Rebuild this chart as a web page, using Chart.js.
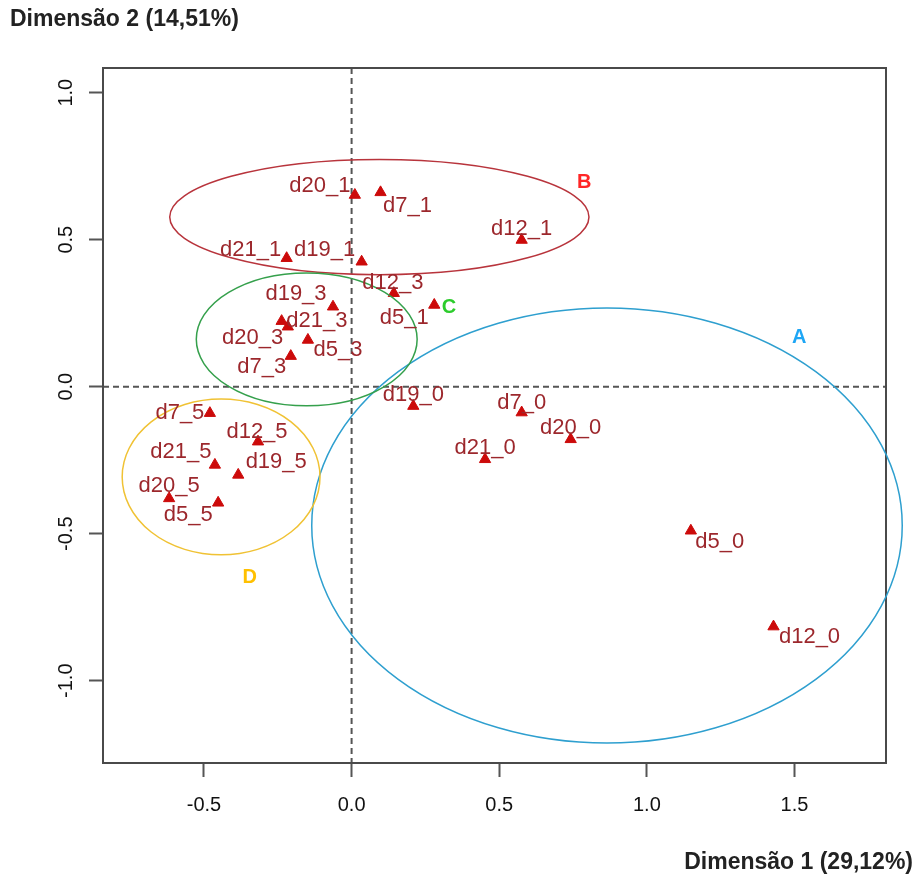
<!DOCTYPE html>
<html>
<head>
<meta charset="utf-8">
<title>Dimensões</title>
<script src="https://cdn.jsdelivr.net/npm/chart.js@4"></script>
<style>
  body { margin: 0; background: #fff; }
  #wrap { width: 917px; height: 883px; }
</style>
</head>
<body>
<div id="wrap"><canvas id="myChart" width="917" height="883"></canvas></div>
<script>
// categorias (modalidades) e coordenadas nas dimensões 1 e 2
const categories = ['d20_1', 'd7_1', 'd12_1', 'd21_1', 'd19_1', 'd12_3', 'd5_1', 'd19_3',
  'd20_3', 'd21_3', 'd5_3', 'd7_3', 'd7_5', 'd12_5', 'd21_5', 'd19_5', 'd20_5', 'd5_5',
  'd19_0', 'd7_0', 'd20_0', 'd21_0', 'd5_0', 'd12_0']
const dim1 = [0.011, 0.098, 0.576, -0.220, 0.034, 0.143, 0.280, -0.063,
  -0.237, -0.216, -0.148, -0.206, -0.480, -0.317, -0.463, -0.384, -0.618, -0.452,
  0.209, 0.576, 0.742, 0.452, 1.149, 1.429]
const dim2 = [0.652, 0.661, 0.499, 0.437, 0.425, 0.318, 0.278, 0.272,
  0.223, 0.204, 0.159, 0.104, -0.090, -0.187, -0.266, -0.300, -0.380, -0.395,
  -0.066, -0.088, -0.179, -0.247, -0.490, -0.816]

const xTicks = [-0.5, 0, 0.5, 1, 1.5]
const yTicks = [-1, -0.5, 0, 0.5, 1]

// grupos (elipses) em unidades dos eixos
const groups = ['A', 'B', 'C', 'D']
const groupCx = [0.865, 0.094, -0.152, -0.442]
const groupCy = [-0.472, 0.577, 0.161, -0.307]
const groupRx = [1.0, 0.710, 0.374, 0.335]
const groupRy = [0.740, 0.196, 0.226, 0.265]
const groupLabelX = [1.516, 0.788, 0.330, -0.345]
const groupLabelY = [0.166, 0.693, 0.271, -0.650]

// estilo
const ellipseColors = ['#2e9fcf', '#b8343c', '#35a04c', '#f0c234']
const letterColors = ['#1ea6f5', '#ff2626', '#2ccc2c', '#ffc000']
const labelNudge = {
  d20_1: [-35, -9], d7_1: [27, 14], d12_1: [0, -11], d21_1: [-36, -8], d19_1: [-37, -12],
  d12_3: [-1, -10], d5_1: [-30, 13], d19_3: [-37, -13], d20_3: [-29, 17], d21_3: [29, -6],
  d5_3: [30, 10], d7_3: [-29, 11], d7_5: [-30, 0], d12_5: [-1, -10], d21_5: [-34, -13],
  d19_5: [38, -13], d20_5: [0, -12], d5_5: [-30, 12], d19_0: [0, -11], d7_0: [0, -10],
  d20_0: [0, -11], d21_0: [0, -11], d5_0: [29, 11], d12_0: [36, 10]
}

const points = categories.map((c, i) => ({ x: dim1[i], y: dim2[i] }))

const decor = {
  id: 'decor',
  beforeDatasetsDraw(chart) {
    const { ctx, chartArea: a, scales: { x, y } } = chart
    ctx.save()
    // linhas tracejadas em zero
    ctx.strokeStyle = '#555'
    ctx.lineWidth = 2
    ctx.setLineDash([6, 4])
    ctx.beginPath()
    ctx.moveTo(x.getPixelForValue(0), a.top)
    ctx.lineTo(x.getPixelForValue(0), a.bottom)
    ctx.moveTo(a.left, y.getPixelForValue(0))
    ctx.lineTo(a.right, y.getPixelForValue(0))
    ctx.stroke()
    ctx.setLineDash([])
    // caixa
    ctx.strokeStyle = '#4a4a4a'
    ctx.strokeRect(a.left, a.top, a.right - a.left, a.bottom - a.top)
    ctx.restore()
  },
  afterDatasetsDraw(chart) {
    const { ctx, scales: { x, y } } = chart
    ctx.save()
    // elipses
    groups.forEach((g, i) => {
      const cx = x.getPixelForValue(groupCx[i])
      const cy = y.getPixelForValue(groupCy[i])
      const rx = Math.abs(x.getPixelForValue(groupCx[i] + groupRx[i]) - cx)
      const ry = Math.abs(y.getPixelForValue(groupCy[i] + groupRy[i]) - cy)
      ctx.strokeStyle = ellipseColors[i]
      ctx.lineWidth = 1.5
      ctx.beginPath()
      ctx.ellipse(cx, cy, rx, ry, 0, 0, Math.PI * 2)
      ctx.stroke()
      ctx.fillStyle = letterColors[i]
      ctx.font = 'bold 20px "Liberation Sans", Arial, sans-serif'
      ctx.textAlign = 'center'
      ctx.textBaseline = 'middle'
      ctx.fillText(g, x.getPixelForValue(groupLabelX[i]), y.getPixelForValue(groupLabelY[i]))
    })
    // rótulos dos pontos
    const meta = chart.getDatasetMeta(0)
    ctx.font = '22px "Liberation Sans", Arial, sans-serif'
    ctx.fillStyle = '#9c272c'
    categories.forEach((c, i) => {
      const p = meta.data[i]
      const n = labelNudge[c] || [0, -11]
      ctx.fillText(c, p.x + n[0], p.y + n[1])
    })
    // títulos dos eixos
    ctx.fillStyle = '#222'
    ctx.font = 'bold 23px "Liberation Sans", Arial, sans-serif'
    ctx.textAlign = 'left'
    ctx.fillText('Dimensão 2 (14,51%)', 10, 20)
    ctx.textAlign = 'right'
    ctx.fillText('Dimensão 1 (29,12%)', 913, 863)
    ctx.restore()
  }
}

const ctx = document.getElementById('myChart')
const myChart = new Chart(ctx, {
  type: 'scatter',
  data: {
    datasets: [{
      data: points,
      pointStyle: 'triangle',
      pointRadius: 6.5,
      backgroundColor: '#cc0a0a',
      borderColor: '#cc0a0a',
      borderWidth: 1
    }]
  },
  options: {
    responsive: false,
    animation: false,
    layout: { padding: { top: 68, right: 31, left: 0, bottom: 0 } },
    plugins: { legend: { display: false }, tooltip: { enabled: false } },
    scales: {
      x: {
        type: 'linear',
        min: -0.842,
        max: 1.810,
        afterBuildTicks: (s) => { s.ticks = xTicks.map(v => ({ value: v })) },
        afterFit: (s) => { s.height = 120 },
        border: { display: false },
        grid: { drawOnChartArea: false, tickLength: 14, tickColor: '#555', tickWidth: 2 },
        ticks: {
          color: '#111',
          padding: 16,
          font: { size: 20, family: '"Liberation Sans", Arial, sans-serif' },
          callback: (v) => Number(v).toFixed(1)
        }
      },
      y: {
        type: 'linear',
        min: -1.280,
        max: 1.084,
        afterBuildTicks: (s) => { s.ticks = yTicks.map(v => ({ value: v })) },
        afterFit: (s) => { s.width = 103 },
        border: { display: false },
        grid: { drawOnChartArea: false, tickLength: 14, tickColor: '#555', tickWidth: 2 },
        ticks: {
          color: '#111',
          padding: 5,
          minRotation: 90,
          maxRotation: 90,
          crossAlign: 'center',
          font: { size: 20, family: '"Liberation Sans", Arial, sans-serif' },
          callback: (v) => Number(v).toFixed(1)
        }
      }
    }
  },
  plugins: [decor]
})
</script>
</body>
</html>
